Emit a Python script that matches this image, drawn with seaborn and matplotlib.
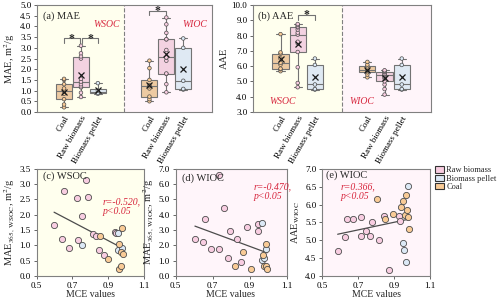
import numpy as np
import pandas as pd
import matplotlib
matplotlib.use("Agg")
import matplotlib.pyplot as plt
from matplotlib.patches import Patch
import seaborn as sns

# %% box data (panels a, b)
a_wsoc_coal = [0.22, 0.35, 0.6, 0.85, 1.0, 1.1, 1.3, 1.5, 1.55]
a_wsoc_raw = [0.7, 0.9, 1.15, 1.2, 1.3, 1.42, 1.55, 2.5, 2.6, 2.75, 3.1]
a_wsoc_pellet = [0.85, 0.9, 1.0, 1.35]
a_wioc_coal = [0.5, 0.6, 0.72, 1.1, 1.2, 1.25, 1.5, 2.05, 2.4]
a_wioc_raw = [0.92, 1.3, 1.78, 1.8, 2.4, 2.55, 2.55, 2.9, 3.4, 3.4, 3.7, 4.1, 4.42]
a_wioc_pellet = [1.05, 1.08, 1.46, 3.0, 3.44]

b_wsoc_coal = [5.67, 5.8, 5.84, 6.1, 6.22, 6.5, 6.82, 6.9, 8.1]
b_wsoc_raw = [4.62, 4.9, 5.93, 6.93, 7.5, 7.6, 8.07, 8.2, 8.4, 8.54, 8.6, 8.7, 8.76]
b_wsoc_pellet = [4.47, 4.5, 4.8, 6.08, 6.5]
b_wioc_coal = [5.27, 5.45, 5.6, 5.7, 5.78, 5.85, 5.99, 6.1, 6.28]
b_wioc_raw = [4.14, 4.5, 4.8, 5.01, 5.2, 5.3, 5.39, 5.45, 5.5, 5.6, 5.65, 5.7, 5.73]
b_wioc_pellet = [4.47, 4.5, 4.8, 6.08, 6.5]

sources = ["Coal", "Raw biomass", "Biomass pellet"]

# %% scatter data (panels c, d, e)
c_raw_x = [0.598, 0.641, 0.651, 0.682, 0.725, 0.729, 0.755, 0.777, 0.789, 0.815, 0.830, 0.850, 0.876, 0.938, 0.943]
c_raw_y = [1.66, 1.21, 2.77, 0.91, 2.55, 1.19, 1.96, 3.14, 2.57, 1.37, 1.30, 0.84, 0.70, 1.44, 1.42]
c_coal_x = [0.856, 0.900, 0.958, 0.962, 0.969, 0.973, 0.979, 0.984]
c_coal_y = [1.32, 0.55, 0.23, 1.06, 0.34, 0.79, 1.56, 0.71]
c_pellet_x = [0.755, 0.954, 0.956, 0.979]
c_pellet_y = [1.00, 0.84, 1.39, 0.93]

d_raw_x = [0.605, 0.647, 0.659, 0.690, 0.735, 0.735, 0.764, 0.785, 0.796, 0.834, 0.856, 0.885, 0.944, 0.948]
d_raw_y = [2.43, 2.25, 3.70, 1.77, 1.77, 6.60, 4.44, 1.20, 2.95, 2.39, 0.92, 3.21, 2.95, 3.43]
d_coal_x = [0.823, 0.863, 0.908, 0.971, 0.978, 0.987, 0.987, 0.995]
d_coal_y = [0.68, 1.55, 0.48, 1.38, 0.68, 2.08, 0.68, 0.48]
d_pellet_x = [0.966, 0.968, 0.977, 0.987]
d_pellet_y = [1.03, 3.48, 1.16, 1.75]

e_raw_x = [0.587, 0.628, 0.639, 0.670, 0.717, 0.718, 0.744, 0.767, 0.780, 0.818, 0.843, 0.872, 0.930, 0.933]
e_raw_y = [4.71, 5.10, 5.59, 5.59, 5.12, 5.64, 5.26, 5.11, 5.50, 5.01, 5.69, 4.18, 5.69, 5.53]
e_coal_x = [0.806, 0.850, 0.894, 0.939, 0.952, 0.961, 0.967, 0.974, 0.976, 0.983]
e_coal_y = [6.17, 5.60, 5.73, 5.94, 6.09, 5.71, 6.27, 5.85, 5.64, 5.31]
e_pellet_x = [0.952, 0.957, 0.965, 0.976]
e_pellet_y = [4.93, 4.73, 4.40, 6.52]

# %% style
sns.set_theme(style="ticks")
plt.rcParams["font.family"] = ["Liberation Serif", "DejaVu Serif"]
plt.rcParams["mathtext.fontset"] = "stix"
plt.rcParams["axes.edgecolor"] = "0.5"
plt.rcParams["axes.linewidth"] = 0.8
plt.rcParams["xtick.color"] = "0.3"
plt.rcParams["ytick.color"] = "0.3"
plt.rcParams["xtick.labelcolor"] = "black"
plt.rcParams["ytick.labelcolor"] = "black"
plt.rcParams["xtick.major.size"] = 2.5
plt.rcParams["ytick.major.size"] = 2.5
plt.rcParams["xtick.major.width"] = 0.6
plt.rcParams["ytick.major.width"] = 0.6
plt.rcParams["xtick.major.pad"] = 1.5
plt.rcParams["ytick.major.pad"] = 1.5
plt.rcParams["xtick.labelsize"] = 6.5
plt.rcParams["ytick.labelsize"] = 6.5

pal = {"Coal": "#F9CB96", "Raw biomass": "#F8CDE1", "Biomass pellet": "#DCE9F6"}
yellow_bg = "#FFFFEE"
pink_bg = "#FFF5FA"
red = "#D7263D"

positions = [1.6, 2.6, 3.6, 6.65, 7.65, 8.65]
divider = 5.15

fig = plt.figure(figsize=(5.0, 3.01), dpi=100)
ax_a = fig.add_axes([0.074, 0.628, 0.350, 0.355])
ax_b = fig.add_axes([0.506, 0.628, 0.356, 0.355])
ax_c = fig.add_axes([0.073, 0.083, 0.215, 0.356])
ax_d = fig.add_axes([0.351, 0.083, 0.222, 0.356])
ax_e = fig.add_axes([0.644, 0.083, 0.216, 0.356])


def box_panel(ax, groups, ylim, yticks):
    rows = []
    for pos, src, vals in groups:
        for v in vals:
            rows.append({"pos": pos, "src": src, "val": v})
    df = pd.DataFrame(rows)
    ax.axvspan(0, divider, color=yellow_bg, zorder=0, lw=0)
    ax.axvspan(divider, 10.35, color=pink_bg, zorder=0, lw=0)
    ax.axvline(divider, color="0.5", ls="--", lw=0.8, zorder=1)
    sns.boxplot(data=df, x="pos", y="val", hue="src", hue_order=sources, palette=pal,
                native_scale=True, dodge=False, width=0.94, whis=(0, 100),
                linecolor="0.45", linewidth=0.8, showmeans=True,
                meanprops=dict(marker="x", markeredgecolor="k", markersize=4,
                               markeredgewidth=0.9, zorder=6),
                legend=False, ax=ax)
    sns.stripplot(data=df, x="pos", y="val", hue="src", hue_order=sources, palette=pal,
                  native_scale=True, dodge=False, jitter=False, size=2.6,
                  linewidth=0.5, edgecolor="0.3", legend=False, ax=ax, zorder=4)
    ax.set_xlim(0, 10.35)
    ax.set_ylim(*ylim)
    ax.set_yticks(yticks)
    ax.set_yticklabels([f"{t:.1f}" for t in yticks])
    ax.set_xticks(positions)
    ax.set_xticklabels(sources * 2, rotation=60, ha="right", rotation_mode="anchor",
                       fontsize=6.5)
    ax.tick_params(axis="x", length=0, pad=2)
    ax.set_xlabel("")
    ax.set_facecolor("none")


def bracket(ax, x1, x2, y, drop):
    ax.plot([x1, x1, x2, x2], [y - drop, y, y, y - drop], color="0.45", lw=0.8)
    ax.annotate("*", xy=((x1 + x2) / 2, y), xytext=(0, -2.2), textcoords="offset points",
                ha="center", va="baseline", fontsize=8.5, fontweight="bold")


# %% panel a
box_panel(ax_a, [(positions[0], "Coal", a_wsoc_coal),
                 (positions[1], "Raw biomass", a_wsoc_raw),
                 (positions[2], "Biomass pellet", a_wsoc_pellet),
                 (positions[3], "Coal", a_wioc_coal),
                 (positions[4], "Raw biomass", a_wioc_raw),
                 (positions[5], "Biomass pellet", a_wioc_pellet)],
          (0, 5), np.arange(0, 5.01, 0.5))
ax_a.set_ylabel("MAE, m$^2$/g", fontsize=7.5, labelpad=2)
bracket(ax_a, positions[0], positions[1] - 0.08, 3.44, 0.2)
bracket(ax_a, positions[1] + 0.08, positions[2], 3.44, 0.2)
bracket(ax_a, positions[3], positions[4], 4.74, 0.2)
ax_a.text(0.035, 0.9, "(a) MAE", transform=ax_a.transAxes, fontsize=7.5, va="center")
ax_a.text(0.40, 0.82, "WSOC", transform=ax_a.transAxes, fontsize=7, color=red,
          style="italic", ha="center", va="center")
ax_a.text(0.903, 0.82, "WIOC", transform=ax_a.transAxes, fontsize=7, color=red,
          style="italic", ha="center", va="center")

# %% panel b
box_panel(ax_b, [(positions[0], "Coal", b_wsoc_coal),
                 (positions[1], "Raw biomass", b_wsoc_raw),
                 (positions[2], "Biomass pellet", b_wsoc_pellet),
                 (positions[3], "Coal", b_wioc_coal),
                 (positions[4], "Raw biomass", b_wioc_raw),
                 (positions[5], "Biomass pellet", b_wioc_pellet)],
          (3, 10), np.arange(3, 10.01, 1.0))
ax_b.set_ylabel("AAE", fontsize=7.5, labelpad=2)
bracket(ax_b, positions[1], positions[2], 9.37, 0.35)
ax_b.text(0.03, 0.9, "(b) AAE", transform=ax_b.transAxes, fontsize=7.5, va="center")
ax_b.text(0.168, 0.10, "WSOC", transform=ax_b.transAxes, fontsize=7, color=red,
          style="italic", ha="center", va="center")
ax_b.text(0.612, 0.10, "WIOC", transform=ax_b.transAxes, fontsize=7, color=red,
          style="italic", ha="center", va="center")


# %% scatter panels
def scatter_panel(ax, sets, bg, ylim, yticks):
    ax.set_facecolor(bg)
    for src, xs, ys in sets:
        sns.scatterplot(x=xs, y=ys, color=pal[src], edgecolor="0.3", linewidth=0.6,
                        s=20, ax=ax, zorder=3)
    all_x = np.concatenate([s[1] for s in sets])
    all_y = np.concatenate([s[2] for s in sets])
    sns.regplot(x=all_x, y=all_y, scatter=False, ci=None, color="0.3",
                line_kws=dict(lw=0.9), ax=ax)
    ax.set_xlim(0.5, 1.1)
    ax.set_xticks([0.5, 0.7, 0.9, 1.1])
    ax.set_xticklabels(["0.5", "0.7", "0.9", "1.1"])
    ax.set_ylim(*ylim)
    ax.set_yticks(yticks)
    ax.set_yticklabels([f"{t:.1f}" for t in yticks])
    ax.set_xlabel("MCE values", fontsize=7, labelpad=0.5)


scatter_panel(ax_c, [("Raw biomass", c_raw_x, c_raw_y),
                     ("Biomass pellet", c_pellet_x, c_pellet_y),
                     ("Coal", c_coal_x, c_coal_y)],
              yellow_bg, (0, 3.5), np.arange(0, 3.51, 0.5))
ax_c.set_ylabel("MAE$_{365,\\ \\mathrm{WSOC}}$, m$^2$/g", fontsize=7.5, labelpad=2)
ax_c.text(0.06, 0.93, "(c) WSOC", transform=ax_c.transAxes, fontsize=7.5, va="center")
ax_c.text(0.615, 0.65, "r=-0.520,\np<0.05", transform=ax_c.transAxes, fontsize=7,
          color=red, style="italic", va="center", linespacing=1.1)

scatter_panel(ax_d, [("Raw biomass", d_raw_x, d_raw_y),
                     ("Biomass pellet", d_pellet_x, d_pellet_y),
                     ("Coal", d_coal_x, d_coal_y)],
              pink_bg, (0, 7), np.arange(0, 7.01, 1.0))
ax_d.set_ylabel("MAE$_{365,\\ \\mathrm{WIOC}}$, m$^2$/g", fontsize=7.5, labelpad=2)
ax_d.text(0.06, 0.91, "(d) WIOC", transform=ax_d.transAxes, fontsize=7.5, va="center")
ax_d.text(0.70, 0.785, "r=-0.470,\np<0.05", transform=ax_d.transAxes, fontsize=7,
          color=red, style="italic", va="center", linespacing=1.1)

scatter_panel(ax_e, [("Raw biomass", e_raw_x, e_raw_y),
                     ("Biomass pellet", e_pellet_x, e_pellet_y),
                     ("Coal", e_coal_x, e_coal_y)],
              pink_bg, (4, 7), np.arange(4, 7.01, 0.5))
ax_e.set_ylabel("AAE$_{\\mathrm{WIOC}}$", fontsize=7.5, labelpad=2)
ax_e.text(0.04, 0.94, "(e) WIOC", transform=ax_e.transAxes, fontsize=7.5, va="center")
ax_e.text(0.17, 0.79, "r=0.366,\np<0.05", transform=ax_e.transAxes, fontsize=7,
          color=red, style="italic", va="center", linespacing=1.1)

# %% legend
handles = [Patch(facecolor=pal[s], edgecolor="0.2", lw=0.8)
           for s in ["Raw biomass", "Biomass pellet", "Coal"]]
fig.legend(handles, ["Raw biomass", "Biomass pellet", "Coal"], loc="upper left",
           bbox_to_anchor=(0.870, 0.447), frameon=False, fontsize=6.0,
           handlelength=1.1, handleheight=0.75, labelspacing=0.05,
           handletextpad=0.25, borderaxespad=0, borderpad=0)

fig.savefig("out.png", dpi=100)
